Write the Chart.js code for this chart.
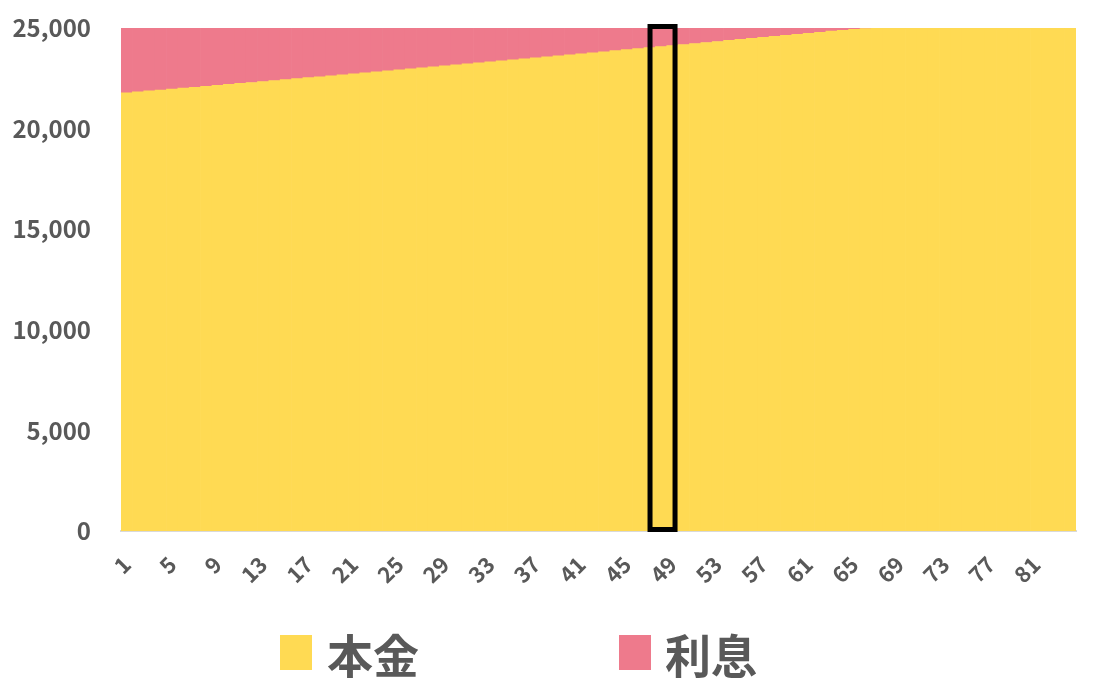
<!DOCTYPE html>
<html>
<head>
<meta charset="utf-8">
<script src="https://cdn.jsdelivr.net/npm/chart.js@4.4.1/dist/chart.umd.min.js"></script>
<style>
  body { margin: 0; background: #fff; }
  #wrap { position: relative; width: 1118px; height: 696px; }
  #legend { position: absolute; left: 0; top: 0; width: 1118px; height: 696px; pointer-events: none;
    font-family: "Noto Sans CJK JP", "Noto Sans", sans-serif; font-weight: 700; color: #595959; }
  .box { position: absolute; width: 32px; height: 35px; top: 635px; }
  .txt { position: absolute; top: 628px; font-size: 46px; line-height: 50px; }
</style>
</head>
<body>
<div id="wrap">
  <canvas id="loanChart" width="1118" height="696"></canvas>
  <div id="legend">
    <div class="box" style="left:280px;background:#FFDA53"></div>
    <div class="txt" style="left:327px">本金</div>
    <div class="box" style="left:619px;background:#EE7A8C"></div>
    <div class="txt" style="left:665px">利息</div>
  </div>
</div>
<script>
const months = [1, 2, 3, 4, 5, 6, 7, 8, 9, 10, 11, 12, 13, 14, 15, 16, 17, 18, 19, 20,
  21, 22, 23, 24, 25, 26, 27, 28, 29, 30, 31, 32, 33, 34, 35, 36, 37, 38, 39, 40,
  41, 42, 43, 44, 45, 46, 47, 48, 49, 50, 51, 52, 53, 54, 55, 56, 57, 58, 59, 60,
  61, 62, 63, 64, 65, 66, 67, 68, 69, 70, 71, 72, 73, 74, 75, 76, 77, 78, 79, 80,
  81, 82, 83, 84];

const principal = [21780, 21826, 21872, 21918, 21964, 22010, 22057, 22104, 22151, 22198,
  22245, 22292, 22339, 22387, 22435, 22483, 22531, 22579, 22627, 22675,
  22723, 22772, 22821, 22870, 22919, 22968, 23017, 23066, 23115, 23165,
  23215, 23265, 23315, 23365, 23415, 23465, 23515, 23566, 23617, 23668,
  23719, 23770, 23821, 23872, 23923, 23974, 24025, 24076, 24127, 24178,
  24229, 24280, 24331, 24382, 24433, 24484, 24535, 24586, 24637, 24688,
  24739, 24790, 24841, 24888, 24932, 24975, 25000, 25000, 25000, 25000,
  25000, 25000, 25000, 25000, 25000, 25000, 25000, 25000, 25000, 25000,
  25000, 25000, 25000, 25000];

const interest = [3220, 3174, 3128, 3082, 3036, 2990, 2943, 2896, 2849, 2802,
  2755, 2708, 2661, 2613, 2565, 2517, 2469, 2421, 2373, 2325,
  2277, 2228, 2179, 2130, 2081, 2032, 1983, 1934, 1885, 1835,
  1785, 1735, 1685, 1635, 1585, 1535, 1485, 1434, 1383, 1332,
  1281, 1230, 1179, 1128, 1077, 1026, 975, 924, 873, 822,
  771, 720, 669, 618, 567, 516, 465, 414, 363, 312,
  261, 210, 159, 112, 68, 25, 0, 0, 0, 0,
  0, 0, 0, 0, 0, 0, 0, 0, 0, 0,
  0, 0, 0, 0];

const yTicks = [0, 5000, 10000, 15000, 20000, 25000];
const highlightIndex = 47; // month 48

const textColor = '#595959';
const fontFamily = '"Noto Sans CJK JP", "Noto Sans", sans-serif';

// black frame around the highlighted month
const highlightBox = {
  id: 'highlightBox',
  afterDatasetsDraw(chart) {
    const x = chart.scales.x, y = chart.scales.y;
    const step = x.getPixelForValue(1) - x.getPixelForValue(0);
    const cx = x.getPixelForValue(highlightIndex) + 1.5;
    const w = step * 2.2;
    const top = y.getPixelForValue(yTicks[yTicks.length - 1]) - 1.5;
    const bottom = y.getPixelForValue(0) - 1.5;
    const ctx = chart.ctx;
    ctx.save();
    ctx.strokeStyle = '#000';
    ctx.lineWidth = 5;
    ctx.strokeRect(cx - w / 2, top, w, bottom - top);
    ctx.restore();
  }
};

new Chart(document.getElementById('loanChart'), {
  type: 'bar',
  data: {
    labels: months,
    datasets: [{
      label: '本金',
      data: principal,
      backgroundColor: '#FFDA53',
      borderWidth: 0,
      barPercentage: 1,
      categoryPercentage: 1
    }, {
      label: '利息',
      data: interest,
      backgroundColor: '#EE7A8C',
      borderWidth: 0,
      barPercentage: 1,
      categoryPercentage: 1
    }]
  },
  options: {
    responsive: false,
    animation: false,
    layout: {
      padding: { left: 0, right: 42, top: 28, bottom: 85 }
    },
    plugins: {
      legend: { display: false },
      tooltip: { enabled: false }
    },
    scales: {
      x: {
        stacked: true,
        grid: { display: false, drawTicks: false },
        border: { display: true, color: '#d9d9d9', width: 2 },
        afterFit(scale) { scale.height = 80; },
        ticks: {
          autoSkip: false,
          minRotation: 45,
          maxRotation: 45,
          padding: 20,
          color: textColor,
          font: { family: fontFamily, size: 22, weight: 'bold' },
          callback(value, index) {
            return index % 4 === 0 ? months[index] : '';
          }
        }
      },
      y: {
        stacked: true,
        min: 0,
        max: 25000,
        grid: { display: false, drawTicks: false },
        border: { display: false },
        afterFit(scale) {
          scale.width = 121;
          scale.paddingTop = 0;
          scale.paddingBottom = 0;
        },
        afterBuildTicks(scale) {
          scale.ticks = yTicks.map(v => ({ value: v }));
        },
        ticks: {
          padding: 30,
          color: textColor,
          font: { family: fontFamily, size: 24, weight: 'bold' },
          callback(value) { return value.toLocaleString('en-US'); }
        }
      }
    }
  },
  plugins: [highlightBox]
});
</script>
</body>
</html>
